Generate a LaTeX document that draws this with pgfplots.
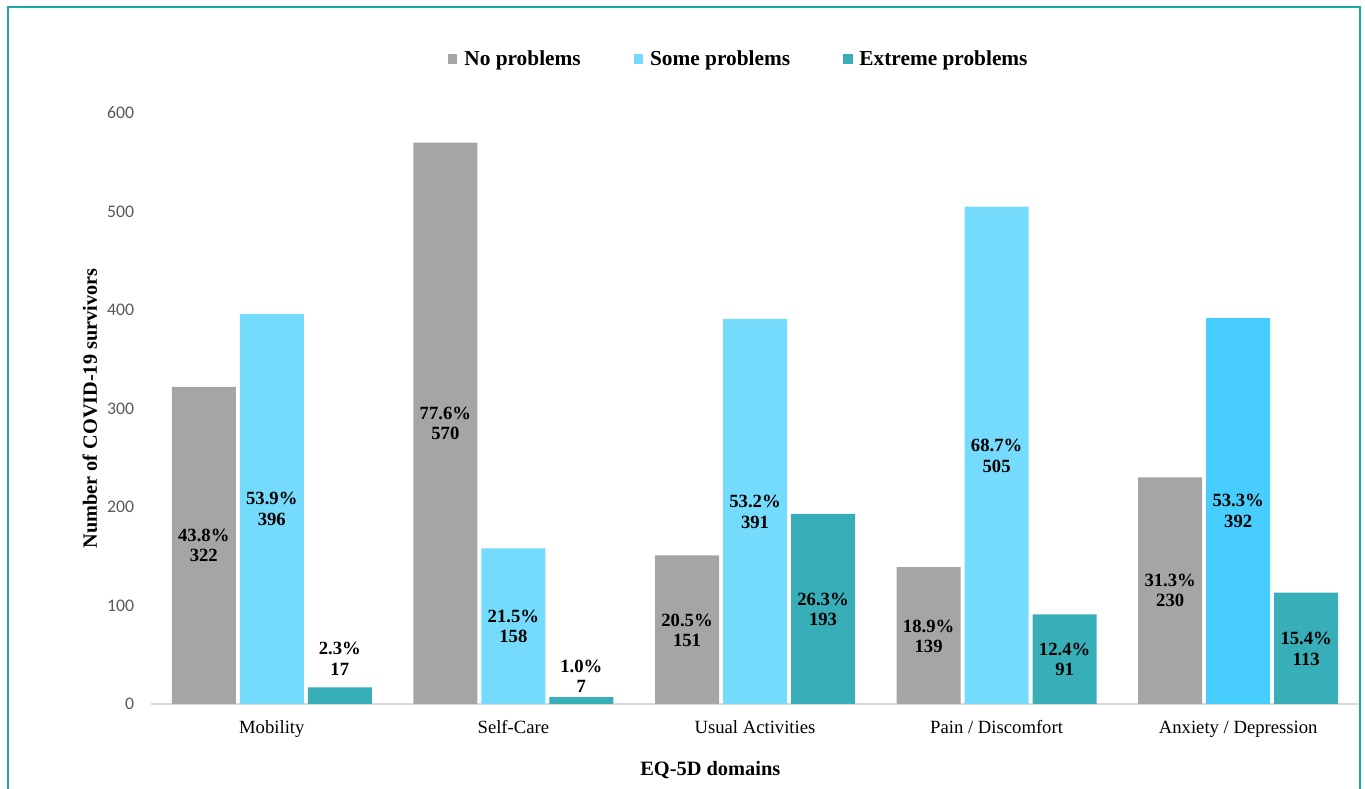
\documentclass[border=0pt]{standalone}
\usepackage{pgfplots}
\pgfplotsset{compat=1.18}
\usepackage{pgfplotstable}
\usepackage{fontspec}
\setmainfont{Liberation Serif}
\newfontfamily\carlito{Carlito}
\definecolor{grayc}{HTML}{A5A5A5}
\definecolor{bluec}{HTML}{75DBFD}
\definecolor{blued}{HTML}{47CDFE}
\definecolor{tealc}{HTML}{38AEB8}
\definecolor{framec}{HTML}{20A8A8}
\definecolor{axisc}{HTML}{D9D9D9}
\definecolor{tickc}{HTML}{595959}

\pgfplotstableread{
x n pct lab
0 322 43.8 161
1 570 77.6 285
2 151 20.5 75
3 139 18.9 69
4 230 31.3 115
}\nopr
\pgfplotstableread{
x n pct lab
0 396 53.9 198
1 158 21.5 79
2 391 53.2 195
3 505 68.7 252
4 392 53.3 196
}\somepr
\pgfplotstableread{
x n pct lab
0 17 2.3 46
1 7 1.0 28
2 193 26.3 96
3 91 12.4 45
4 113 15.4 56
}\extpr

\newcommand\lblfont{\bfseries\fontsize{14}{15.2}\selectfont}

\begin{document}
\begin{tikzpicture}
\useasboundingbox (0,0) rectangle (1023.75pt,591.75pt);
\draw[framec, line width=1.5pt] (6pt,-5pt) -- (6pt,586.5pt) -- (1020pt,586.5pt) -- (1020pt,-5pt);
\begin{axis}[
  at={(113.25pt,63.75pt)}, anchor=south west,
  scale only axis, width=906pt, height=443.25pt,
  xmin=-0.5, xmax=4.5, ymin=0, ymax=600,
  xtick={0,1,2,3,4},
  xticklabels={Mobility, Self-Care, Usual Activities, Pain / Discomfort, Anxiety / Depression},
  ytick={0,100,...,600},
  /pgf/number format/assume math mode=true,
  axis x line*=bottom, axis y line*=left,
  x axis line style={-, draw=axisc, line width=1.1pt},
  y axis line style={draw=none},
  major tick length=0pt,
  xticklabel style={font=\fontsize{14}{17}\selectfont, text=black, anchor=base, inner sep=0pt, yshift=-22.5pt},
  yticklabel style={font=\carlito\fontsize{13.3}{16}\selectfont, text=tickc, anchor=east, inner sep=0pt, xshift=-12.5pt},
  ylabel={Number of COVID-19 survivors},
  every axis y label/.style={at={(axis description cs:-0.0505,0.5)}, rotate=90, anchor=center, font=\bfseries\fontsize{15.2}{18}\selectfont},
  xlabel={EQ-5D domains},
  every axis x label/.style={at={(axis description cs:0.463,-0.111)}, anchor=center, font=\bfseries\fontsize{15.3}{18}\selectfont},
  legend style={at={(axis description cs:0.487,1)}, anchor=center, yshift=40.5pt, draw=none, fill=none,
    legend columns=3, font=\bfseries\fontsize{16}{19}\selectfont,
    /tikz/every even column/.append style={column sep=38pt}},
  legend image code/.code={\fill[#1] (0pt,-3.4pt) rectangle (6.8pt,3.4pt); \path (10pt,0pt);},
  every node near coord/.append style={anchor=center, align=center, font=\lblfont, text=black},
]
\addplot[ybar, bar width=48pt, bar shift=-51pt, fill=grayc, draw=none] table[x=x,y=n]{\nopr};
\addlegendentry{No problems}
\addplot[ybar, bar width=48pt, bar shift=0pt, fill=bluec, draw=none] table[x=x,y=n]{\somepr};
\addlegendentry{Some problems}
\addplot[ybar, bar width=48pt, bar shift=51pt, fill=tealc, draw=none] table[x=x,y=n]{\extpr};
\addlegendentry{Extreme problems}
\addplot[ybar, bar width=48pt, bar shift=0pt, fill=blued, draw=none, forget plot] coordinates {(4,392)};

\addplot[draw=none, mark=none, forget plot, point meta=explicit symbolic,
  visualization depends on={\thisrow{n}\as\nv},
  nodes near coords={\pgfplotspointmeta\%\\\pgfmathprintnumber[fixed,precision=0]{\nv}},
  every node near coord/.append style={xshift=-51pt}] table[x=x,y=lab,meta=pct]{\nopr};
\addplot[draw=none, mark=none, forget plot, point meta=explicit symbolic,
  visualization depends on={\thisrow{n}\as\nv},
  nodes near coords={\pgfplotspointmeta\%\\\pgfmathprintnumber[fixed,precision=0]{\nv}}] table[x=x,y=lab,meta=pct]{\somepr};
\addplot[draw=none, mark=none, forget plot, point meta=explicit symbolic,
  visualization depends on={\thisrow{n}\as\nv},
  nodes near coords={\pgfplotspointmeta\%\\\pgfmathprintnumber[fixed,precision=0]{\nv}},
  every node near coord/.append style={xshift=51pt}] table[x=x,y=lab,meta=pct]{\extpr};
\end{axis}
\end{tikzpicture}
\end{document}
